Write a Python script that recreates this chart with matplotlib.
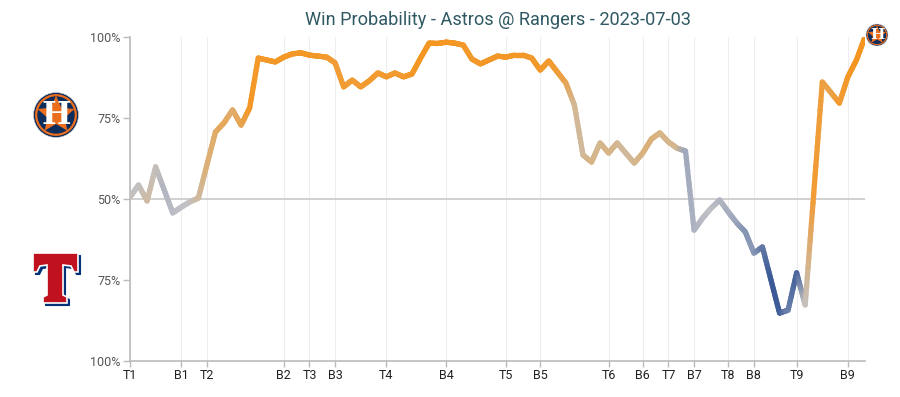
import numpy as np
import matplotlib
matplotlib.use("Agg")
import matplotlib.pyplot as plt
from matplotlib.collections import LineCollection
from matplotlib.colors import LinearSegmentedColormap
from matplotlib.patches import Circle, Polygon

plt.rcParams['font.family'] = ['Roboto', 'DejaVu Sans']

# home-team (Astros) win probability, one value per play
win_prob = [50.6, 54.3, 49.4, 59.9, 52.8, 45.7, 47.5, 49.1, 50.3, 60.5,
            70.7, 73.5, 77.5, 72.8, 78.1, 93.5, 92.9, 92.3, 93.8, 94.8,
            95.1, 94.4, 94.1, 93.8, 92.0, 84.6, 86.7, 84.6, 86.5, 88.9,
            87.7, 88.9, 87.7, 88.6, 93.5, 98.1, 98.0, 98.4, 98.1, 97.5,
            93.2, 91.7, 92.9, 94.1, 93.8, 94.4, 94.4, 93.5, 89.8, 92.6,
            89.2, 85.8, 79.0, 63.6, 61.4, 67.3, 64.2, 67.3, 64.2, 61.1,
            64.2, 68.5, 70.4, 67.6, 65.7, 64.8, 40.4, 44.1, 47.2, 49.7,
            46.0, 42.6, 39.8, 33.3, 35.2, 25.0, 14.8, 15.7, 27.2, 17.3,
            51.7, 86.1, 82.9, 79.6, 87.7, 92.9, 100.0]
plays = np.arange(len(win_prob))

inning_labels = ['T1', 'B1', 'T2', 'B2', 'T3', 'B3', 'T4', 'B4', 'T5',
                 'B5', 'T6', 'B6', 'T7', 'B7', 'T8', 'B8', 'T9', 'B9']
inning_starts = [0, 6, 9, 18, 21, 24, 30, 37, 44, 48, 56, 60, 63, 66,
                 70, 73, 78, 84]

y_ticks = [0, 25, 50, 75, 100]
y_labels = ['100%', '75%', '50%', '75%', '100%']

title = 'Win Probability - Astros @ Rangers - 2023-07-03'

ORANGE = '#f4951f'
NAVY = '#0c2c5c'
cmap = LinearSegmentedColormap.from_list('wp', [
    (0.0, '#2a4a8a'), (0.15, '#3b5a96'), (0.33, '#8494b4'),
    (0.5, '#c2c2c6'), (0.68, '#d8b484'), (0.85, '#f19c35'),
    (1.0, ORANGE)])

fig = plt.figure(figsize=(9, 3.97), dpi=100)
ax = fig.add_axes([130 / 900, 36 / 397, 735 / 900, 324 / 397])

# horizontal gradient: each play's colour stop takes the result of that play
x = np.asarray(plays, dtype=float)
y = np.asarray(win_prob)
nxt = np.minimum(plays + 1, len(plays) - 1)
stops = cmap(y[nxt] / 100)

n_sub = 12
segs, cols = [], []
for i in range(len(x) - 1):
    f = np.linspace(0, 1, n_sub + 1)
    sx = x[i] + (x[i + 1] - x[i]) * f
    sy = y[i] + (y[i + 1] - y[i]) * f
    for k in range(n_sub):
        segs.append([(sx[k], sy[k]), (sx[k + 1], sy[k + 1])])
        fm = (f[k] + f[k + 1]) / 2
        cols.append((1 - fm) * stops[i] + fm * stops[i + 1])
lc = LineCollection(segs, colors=cols, linewidths=3.8,
                    capstyle='round', joinstyle='round', zorder=3)
ax.add_collection(lc)

ax.set_xlim(0, plays[-1])
ax.set_ylim(0, 100)
ax.axhline(50, color='#c8c8c8', lw=1.2, zorder=1)
for xi in inning_starts:
    ax.axvline(xi, color='#eeeeee', lw=0.8, zorder=0)

ax.set_xticks(inning_starts)
ax.set_xticklabels(inning_labels)
ax.set_yticks(y_ticks)
ax.set_yticklabels(y_labels)
ax.tick_params(axis='x', colors='#bbbbbb', labelcolor='#222222',
               labelsize=9, length=4, width=1, pad=2)
ax.tick_params(axis='y', colors='#bbbbbb', labelcolor='#555555',
               labelsize=9, length=5, width=1, pad=2)
for s in ['top', 'right']:
    ax.spines[s].set_visible(False)
for s in ['left', 'bottom']:
    ax.spines[s].set_color('#bbbbbb')
    ax.spines[s].set_linewidth(1.2)

# title, sized to span roughly the same width as the original
t = fig.text(497.5 / 900, 1 - 20 / 397, title, ha='center', va='center',
             color='#2f5963', fontsize=14)
fig.canvas.draw()
w = t.get_window_extent().width
t.set_fontsize(14 * 388 / w)

# logo overlay in pixel units
ov = fig.add_axes([0, 0, 1, 1], zorder=5)
ov.set_xlim(0, 900)
ov.set_ylim(397, 0)
ov.axis('off')


def astros_logo(cx, cy, r):
    ov.add_patch(Circle((cx, cy), r, facecolor=NAVY, edgecolor='#d9d9d9',
                        lw=0.4))
    ov.add_patch(Circle((cx, cy), r * 0.88, facecolor='none',
                        edgecolor='#eb6e1f', lw=max(r / 14, 0.5)))
    ang = np.pi / 2 + np.arange(10) * np.pi / 5
    rad = np.where(np.arange(10) % 2 == 0, r * 0.86, r * 0.4)
    star = np.column_stack([cx + rad * np.cos(ang), cy - rad * np.sin(ang)])
    ov.add_patch(Polygon(star, closed=True, facecolor='#eb6e1f',
                         edgecolor='none'))
    ov.text(cx, cy + r * 0.04, 'H', ha='center', va='center', color='white',
            fontsize=r * 1.0, fontweight='bold', family='DejaVu Serif')


astros_logo(56, 115, 22.5)
astros_logo(877, 35, 11)

# Rangers "T" mark
t_shape = np.array([(33, 253), (78, 253), (78, 272), (74, 272), (71, 266),
                    (63, 265), (63, 295), (67, 297), (67, 303), (43, 303),
                    (43, 297), (47, 295), (47, 265), (40, 266), (37, 272),
                    (33, 272)], dtype=float)
ov.add_patch(Polygon(t_shape + [2.5, 2.5], closed=True, facecolor='#003278',
                     edgecolor='#003278', lw=0.8))
ov.add_patch(Polygon(t_shape, closed=True, facecolor='#c0111f',
                     edgecolor='white', lw=1.2))

fig.savefig('out.png', dpi=100)
